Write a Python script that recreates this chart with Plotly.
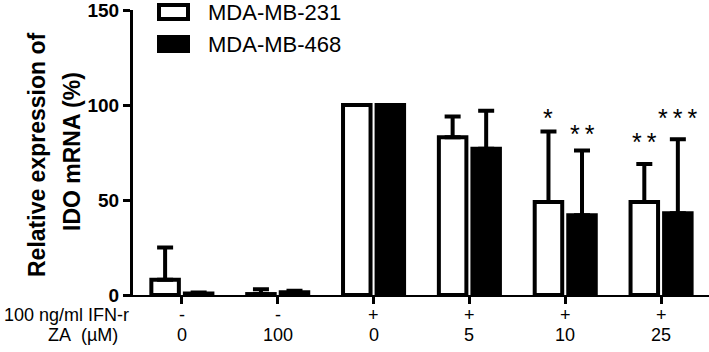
import plotly.graph_objects as go

# ---- data ----
ifn_labels = ["-", "-", "+", "+", "+", "+"]
za_labels = ["0", "100", "0", "5", "10", "25"]
series_names = ["MDA-MB-231", "MDA-MB-468"]
mean_231 = [8, 0.5, 100, 83, 49, 49]
err_231 = [17, 2.5, 0, 11, 37, 20]
mean_468 = [0.8, 1.5, 100, 77, 42, 43]
err_468 = [0.5, 0.8, 0, 20, 34, 39]
stars = [(4, 0, "*", 93), (4, 1, "**", 85), (5, 0, "**", 80.5), (5, 1, "***", 93)]
y_ticks = [0, 50, 100, 150]

W, H = 709, 352
L, R, T, B = 133, 0, 10, 57
PW, PH = W - L - R, H - T - B
FONT = "Liberation Sans, Arial, Helvetica, sans-serif"


def px_x(p):
    return (p - L) / PW


def px_y(p):
    return (H - B - p) / PH


xs = list(range(len(za_labels)))
fig = go.Figure()
fig.add_trace(go.Bar(
    x=xs, y=mean_231, name=series_names[0],
    marker=dict(color="white", line=dict(color="black", width=4)),
    error_y=dict(type="data", symmetric=False, array=err_231,
                 arrayminus=[0] * len(xs), color="black", thickness=4, width=8),
))
fig.add_trace(go.Bar(
    x=xs, y=mean_468, name=series_names[1],
    marker=dict(color="black", line=dict(color="black", width=4)),
    error_y=dict(type="data", symmetric=False, array=err_468,
                 arrayminus=[0] * len(xs), color="black", thickness=4, width=8),
))

annotations = []
off = 0.175
for (ci, si, txt, yv) in stars:
    annotations.append(dict(x=ci + (-off if si == 0 else off), y=yv, xref="x", yref="y",
                            text="\u2009".join(txt), showarrow=False,
                            font=dict(family=FONT, size=25, color="black"),
                            xanchor="center", yanchor="middle"))
for i in xs:
    annotations.append(dict(x=i, y=0, xref="x", yref="paper", yshift=-20, text=ifn_labels[i],
                            showarrow=False, font=dict(family=FONT, size=18, color="black"),
                            xanchor="center", yanchor="middle"))
    annotations.append(dict(x=i, y=0, xref="x", yref="paper", yshift=-40, text=za_labels[i],
                            showarrow=False, font=dict(family=FONT, size=18, color="black"),
                            xanchor="center", yanchor="middle"))
annotations.append(dict(x=px_x(131), y=0, xref="paper", yref="paper", yshift=-20,
                        text="100 ng/ml IFN-r", showarrow=False,
                        font=dict(family=FONT, size=18, color="black"), xanchor="right", yanchor="middle"))
annotations.append(dict(x=px_x(120), y=0, xref="paper", yref="paper", yshift=-40,
                        text="ZA\u00a0\u00a0(\u00b5M)", showarrow=False,
                        font=dict(family=FONT, size=18, color="black"), xanchor="right", yanchor="middle"))
# y axis title (two lines)
annotations.append(dict(x=px_x(37), y=px_y(155), xref="paper", yref="paper", text="Relative expression of",
                        textangle=-90, showarrow=False,
                        font=dict(family=FONT, size=23, color="black", weight="bold"),
                        xanchor="center", yanchor="middle"))
annotations.append(dict(x=px_x(72), y=px_y(152), xref="paper", yref="paper", text="IDO mRNA (%)",
                        textangle=-90, showarrow=False,
                        font=dict(family=FONT, size=23, color="black", weight="bold"),
                        xanchor="center", yanchor="middle"))
# legend
shapes = []
leg_y = [12, 44]
fills = ["white", "black"]
for k in range(2):
    shapes.append(dict(type="rect", xref="paper", yref="paper",
                       x0=px_x(159), x1=px_x(188), y0=px_y(leg_y[k] + 7), y1=px_y(leg_y[k] - 7),
                       fillcolor=fills[k], line=dict(color="black", width=4)))
    annotations.append(dict(x=px_x(206), y=px_y(leg_y[k]), xref="paper", yref="paper",
                            text=series_names[k], showarrow=False,
                            font=dict(family=FONT, size=22, color="black"),
                            xanchor="left", yanchor="middle"))

fig.update_layout(
    width=W, height=H, margin=dict(l=L, r=R, t=T, b=B),
    paper_bgcolor="white", plot_bgcolor="white",
    barmode="group", bargap=0.30, bargroupgap=0.18,
    showlegend=False,
    annotations=annotations, shapes=shapes,
    xaxis=dict(range=[-0.51, 5.5], tickvals=xs, showticklabels=False,
               ticks="outside", ticklen=7, tickwidth=3, tickcolor="black",
               showline=True, linecolor="black", linewidth=2, showgrid=False, zeroline=False,
               fixedrange=True),
    yaxis=dict(range=[0, 150.01], tickvals=y_ticks, ticks="outside", ticklen=7, tickwidth=3,
               tickcolor="black", showline=True, linecolor="black", linewidth=3,
               showgrid=False, zeroline=False, ticklabeloverflow="allow",
               tickfont=dict(family=FONT, size=19, color="black", weight="bold"),
               fixedrange=True),
)

fig.write_html("out.html", config={"displayModeBar": False},
               post_script="document.body.style.margin='0';document.body.style.padding='0';")
